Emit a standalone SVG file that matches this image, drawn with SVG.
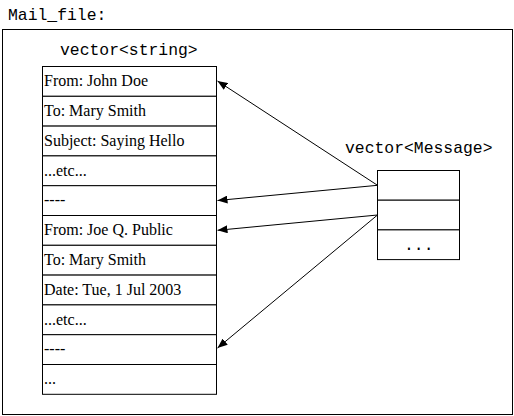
<svg xmlns="http://www.w3.org/2000/svg" width="514" height="416" viewBox="0 0 514 416">
<defs>
<style>
.mono{font-family:"Liberation Mono","Courier New",monospace;font-size:16.4px;fill:#000}
.ser{font-family:"Liberation Serif","Times New Roman",serif;font-size:16px;fill:#000}
.box{fill:#fff;stroke:#000;stroke-width:1}
.con{stroke:#000;stroke-width:1;fill:none;marker-end:url(#ah)}
</style>
<marker id="ah" viewBox="0 0 10 8" refX="10" refY="4" markerWidth="10" markerHeight="8" markerUnits="userSpaceOnUse" orient="auto">
<path d="M0,0 L10,4 L0,8 Z" fill="#000"/>
</marker>
</defs>
<rect width="514" height="416" fill="#fff"/>
<text class="mono" x="8" y="20">Mail_file:</text>
<rect id="mail_file" x="2.5" y="29.5" width="510" height="385" fill="none" stroke="#000"/>
<text class="mono" x="60" y="55">vector&lt;string&gt;</text>
<g id="strings">
<g id="s0"><rect class="box" x="42.5" y="66.5" width="174" height="29.8"/><text class="ser" x="44" y="86">From: John Doe</text></g>
<g id="s1"><rect class="box" x="42.5" y="96.3" width="174" height="29.8"/><text class="ser" x="44" y="116">To: Mary Smith</text></g>
<g id="s2"><rect class="box" x="42.5" y="126.1" width="174" height="29.8"/><text class="ser" x="44" y="146">Subject: Saying Hello</text></g>
<g id="s3"><rect class="box" x="42.5" y="155.9" width="174" height="29.8"/><text class="ser" x="44" y="176">...etc...</text></g>
<g id="s4"><rect class="box" x="42.5" y="185.7" width="174" height="29.8"/><text class="ser" x="44" y="205">----</text></g>
<g id="s5"><rect class="box" x="42.5" y="215.5" width="174" height="29.8"/><text class="ser" x="44" y="235">From: Joe Q. Public</text></g>
<g id="s6"><rect class="box" x="42.5" y="245.3" width="174" height="29.8"/><text class="ser" x="44" y="265">To: Mary Smith</text></g>
<g id="s7"><rect class="box" x="42.5" y="275.1" width="174" height="29.8"/><text class="ser" x="44" y="295">Date: Tue, 1 Jul 2003</text></g>
<g id="s8"><rect class="box" x="42.5" y="304.9" width="174" height="29.8"/><text class="ser" x="44" y="325">...etc...</text></g>
<g id="s9"><rect class="box" x="42.5" y="334.7" width="174" height="29.8"/><text class="ser" x="44" y="354">----</text></g>
<g id="s10"><rect class="box" x="42.5" y="364.5" width="174" height="29.8"/><text class="ser" x="44" y="384">...</text></g>
</g>
<text class="mono" x="345" y="153">vector&lt;Message&gt;</text>
<g id="messages">
<g id="m0"><rect class="box" x="377.5" y="170.5" width="82" height="29.7"/></g>
<g id="m1"><rect class="box" x="377.5" y="200.2" width="82" height="29.7"/></g>
<g id="m2"><rect class="box" x="377.5" y="229.9" width="82" height="29.7"/><text class="mono" x="404" y="250">...</text></g>
</g>
<g id="connectors">
<line class="con" x1="377.5" y1="185.3" x2="217.5" y2="81"/>
<line class="con" x1="377.5" y1="185.3" x2="217.5" y2="200.5"/>
<line class="con" x1="377.5" y1="215" x2="217.5" y2="230.3"/>
<line class="con" x1="377.5" y1="215" x2="217.5" y2="348"/>
</g>
</svg>
